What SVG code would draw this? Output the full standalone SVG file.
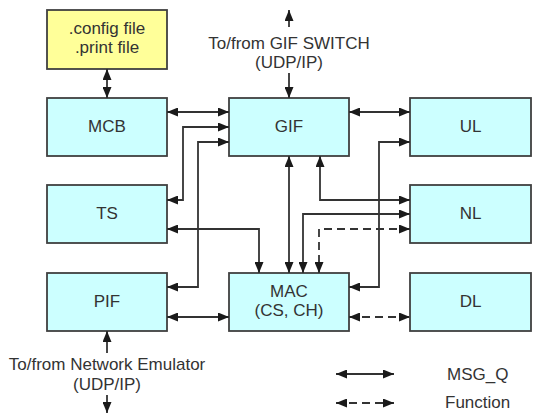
<svg xmlns="http://www.w3.org/2000/svg" width="533" height="417" viewBox="0 0 533 417">
<style>
.box{fill:#ccffff;stroke:#404040;stroke-width:1.8}
.cfg{fill:#ffff99;stroke:#404040;stroke-width:1.8}
.t{font-family:"Liberation Sans",Arial,sans-serif;font-size:17px;fill:#333;text-anchor:middle}
.l{font-family:"Liberation Sans",Arial,sans-serif;font-size:17px;fill:#333}
.c{fill:none;stroke:#333;stroke-width:1.8}
.d{stroke-dasharray:8 5}
.b{marker-start:url(#ah);marker-end:url(#ah)}
.e{marker-end:url(#ah)}
</style>
<defs>
<marker id="ah" markerUnits="userSpaceOnUse" markerWidth="11" markerHeight="9" refX="11" refY="4.5" orient="auto-start-reverse">
<path d="M0,0 L11,4.5 L0,9 z" fill="#1a1a1a"/>
</marker>
</defs>
<rect width="533" height="417" fill="#fff"/>
<g id="config"><rect class="cfg" x="47" y="10" width="120" height="59"/><text class="t" x="107" y="34">.config file</text><text class="t" x="107" y="53">.print file</text></g>
<g id="MCB"><rect class="box" x="47" y="98" width="120" height="58"/><text class="t" x="107" y="132">MCB</text></g>
<g id="GIF"><rect class="box" x="229" y="98" width="120" height="58"/><text class="t" x="289" y="132">GIF</text></g>
<g id="UL"><rect class="box" x="410" y="98" width="121" height="58"/><text class="t" x="470.5" y="132">UL</text></g>
<g id="TS"><rect class="box" x="47" y="185" width="120" height="58"/><text class="t" x="107" y="219">TS</text></g>
<g id="NL"><rect class="box" x="410" y="185" width="121" height="58"/><text class="t" x="470.5" y="219">NL</text></g>
<g id="PIF"><rect class="box" x="47" y="273" width="120" height="58"/><text class="t" x="107" y="307">PIF</text></g>
<g id="MAC"><rect class="box" x="229" y="273" width="120" height="58"/><text class="t" x="289" y="297">MAC</text><text class="t" x="289" y="316">(CS, CH)</text></g>
<g id="DL"><rect class="box" x="410" y="273" width="121" height="58"/><text class="t" x="470.5" y="307">DL</text></g>
<g id="gifswitch"><text class="t" x="289" y="49">To/from GIF SWITCH</text><text class="t" x="289" y="68">(UDP/IP)</text></g>
<g id="netemu"><text class="t" x="107" y="370">To/from Network Emulator</text><text class="t" x="107" y="390">(UDP/IP)</text></g>
<g id="connectors">
<path class="c b" d="M107,69 V98"/>
<path class="c e" d="M289,27 V10"/>
<path class="c e" d="M289,73 V98"/>
<path class="c b" d="M167,112 H229"/>
<path class="c b" d="M167,200 H183 V127 H229"/>
<path class="c b" d="M167,287 H198 V142 H229"/>
<path class="c b" d="M167,229 H259 V273"/>
<path class="c b" d="M167,317 H229"/>
<path class="c b" d="M349,112 H410"/>
<path class="c b" d="M410,142 H379 V287 H349"/>
<path class="c b" d="M320,156 V200 H410"/>
<path class="c b" d="M289,156 V273"/>
<path class="c b" d="M410,214 H303 V273"/>
<path class="c b d" d="M410,229 H319 V273"/>
<path class="c b d" d="M349,317 H410"/>
<path class="c e" d="M107,353 V331"/>
<path class="c e" d="M107,395 V413"/>
</g>
<g id="legend">
<path class="c b" d="M336,374 H394"/>
<path class="c b d" d="M336,403 H394"/>
<text class="l" x="447" y="380">MSG_Q</text>
<text class="l" x="445" y="408">Function</text>
</g>
</svg>
